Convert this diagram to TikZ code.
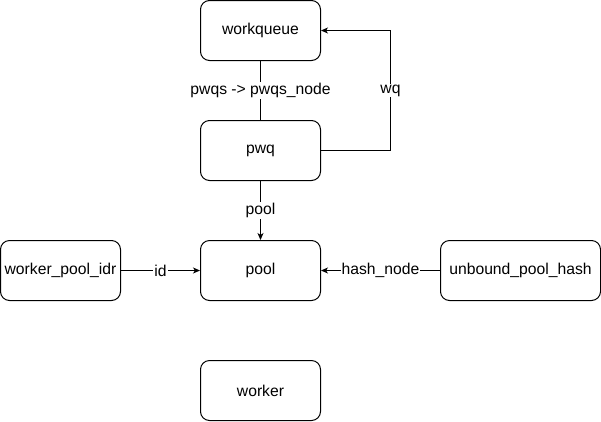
\documentclass[tikz,border=0pt]{standalone}
\usepackage{fontspec}
\setmainfont{Liberation Sans}
\usetikzlibrary{arrows.meta}
\begin{document}
\begin{tikzpicture}[x=1pt,y=-1pt,
  box/.style={draw,line width=1pt,rounded corners=9pt,minimum width=120pt,minimum height=60pt,inner sep=0pt,font=\fontsize{15.7}{18}\selectfont},
  conn/.style={line width=1pt},
  arr/.style={conn,-{Stealth[length=7pt,width=6pt,inset=2pt]}},
  lbl/.style={fill=white,inner sep=1pt,font=\fontsize{15.7}{18}\selectfont}]
\useasboundingbox (0,0) rectangle (601,421);
\node[box] (wq) at (260.5,30.5) {workqueue};
\node[box] (pwq) at (260.5,150.5) {pwq};
\node[box] (pool) at (260.5,270.5) {pool};
\node[box] (idr) at (60.5,270.5) {worker\_pool\_idr};
\node[box,minimum width=160pt] (hash) at (520.5,270.5) {unbound\_pool\_hash};
\node[box] (worker) at (260.5,390.5) {worker};
\coordinate (c1) at (390.5,150.5);
\coordinate (c2) at (390.5,30.5);
\draw[conn] (wq.south) -- node[lbl] {pwqs -> pwqs\_node} (pwq.north);
\draw[arr] (pwq.east) -- (c1) -- node[lbl,pos=0.5] {wq} (c2) -- (wq.east);
\draw[arr] (pwq.south) -- node[lbl] {pool} (pool.north);
\draw[arr] (idr.east) -- node[lbl] {id} (pool.west);
\draw[arr] (hash.west) -- node[lbl] {hash\_node} (pool.east);
\end{tikzpicture}
\end{document}
